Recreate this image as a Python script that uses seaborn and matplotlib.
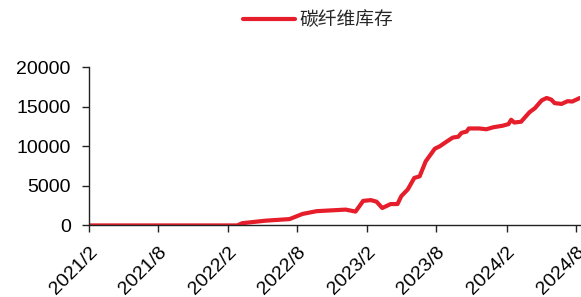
import pandas as pd
import seaborn as sns
import matplotlib.pyplot as plt

# values
dates = ["2021-02-01", "2021-08-01", "2022-02-01", "2022-02-25", "2022-03-10",
         "2022-05-10", "2022-07-12", "2022-08-15", "2022-09-21", "2022-12-06",
         "2023-01-01", "2023-01-21", "2023-02-10", "2023-02-25", "2023-03-12",
         "2023-04-03", "2023-04-21", "2023-05-01", "2023-05-18", "2023-06-04",
         "2023-06-18", "2023-07-04", "2023-07-28", "2023-08-10", "2023-08-28",
         "2023-09-13", "2023-09-27", "2023-10-06", "2023-10-19", "2023-10-25",
         "2023-11-21", "2023-12-10", "2023-12-28", "2024-01-22", "2024-02-06",
         "2024-02-13", "2024-02-21", "2024-03-10", "2024-04-01", "2024-04-15",
         "2024-05-03", "2024-05-16", "2024-05-28", "2024-06-06", "2024-06-24",
         "2024-07-10", "2024-07-22", "2024-08-11"]
stock = [0, 0, 0, 0, 280,
         600, 800, 1450, 1800, 2000,
         1750, 3100, 3200, 3000, 2200,
         2700, 2700, 3700, 4550, 6000,
         6200, 8100, 9700, 10000, 10600,
         11100, 11200, 11700, 11850, 12250,
         12250, 12150, 12400, 12600, 12800,
         13350, 13000, 13100, 14300, 14800,
         15800, 16100, 15900, 15450, 15350,
         15700, 15650, 16100]
series_name = "碳纤维库存"
tick_dates = ["2021-02-01", "2021-08-01", "2022-02-01", "2022-08-01",
              "2023-02-01", "2023-08-01", "2024-02-01", "2024-08-01"]
tick_labels = ["2021/2", "2021/8", "2022/2", "2022/8",
               "2023/2", "2023/8", "2024/2", "2024/8"]

df = pd.DataFrame({"date": pd.to_datetime(dates), "value": stock, "series": series_name})

sns.set_style("ticks")
plt.rcParams['font.family'] = ['Liberation Sans', 'Noto Sans CJK SC', 'DejaVu Sans']

fig = plt.figure(figsize=(5.81, 2.97), dpi=100)
ax = fig.add_axes([0.153, 0.241, 0.845, 0.533])
sns.lineplot(data=df, x="date", y="value", hue="series", palette=["#E61E2B"],
             linewidth=3, ax=ax)

ax.set_xlim(pd.Timestamp("2021-02-01"), pd.Timestamp("2024-08-11"))
ax.set_ylim(0, 20000)
ax.set_yticks([0, 5000, 10000, 15000, 20000])
ax.set_xticks(pd.to_datetime(tick_dates))
ax.set_xticklabels(tick_labels, rotation=45, ha="right", rotation_mode="anchor")
ax.tick_params(axis="both", labelsize=14, length=5, width=1, colors="#222222",
               labelcolor="black")
ax.tick_params(axis="y", pad=8)
ax.tick_params(axis="x", pad=8)
ax.set_xlabel("")
ax.set_ylabel("")
sns.despine(ax=ax)
for s in ["left", "bottom"]:
    ax.spines[s].set_color("#222222")
    ax.spines[s].set_linewidth(1)

leg = ax.legend(loc="center", bbox_to_anchor=(0.466, 1.30), frameon=False,
                fontsize=13.5, handlelength=2.8, handletextpad=0.2,
                borderpad=0, borderaxespad=0)
for t in leg.get_texts():
    t.set_family(['Noto Sans CJK SC', 'DejaVu Sans'])

fig.savefig("out.png", dpi=100)
